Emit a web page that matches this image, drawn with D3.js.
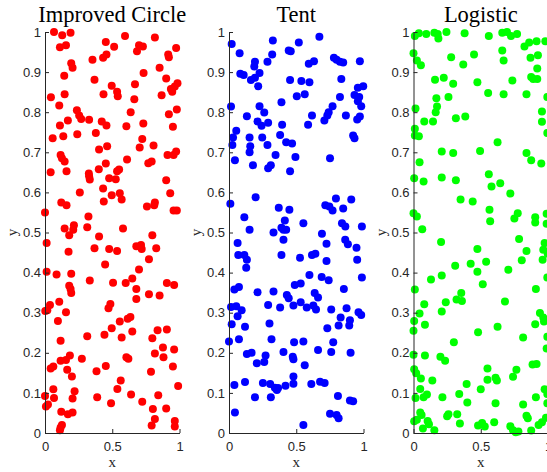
<!DOCTYPE html>
<html>
<head>
<meta charset="utf-8">
<script src="https://cdn.jsdelivr.net/npm/d3@7"></script>
<style>
  body { margin: 0; background: #fff; }
  svg { display: block; }
</style>
</head>
<body>
<svg id="chart"></svg>
<script>
const width = 547;
const height = 472;

const titles = ["Improved Circle", "Tent", "Logistic"];
const colors = ["#ff0000", "#0000ff", "#00ff00"];
const xTicks = [0, 0.5, 1];
const yTicks = [0, 0.1, 0.2, 0.3, 0.4, 0.5, 0.6, 0.7, 0.8, 0.9, 1];

// [x, y]
const circlePts = [
  [.067,1.0],[.128,.992],[.190,.998],[.111,.962],[.156,.967],[.195,.922],[.205,.911],[.143,.891],
  [.044,.837],[.146,.845],[.106,.817],[.111,.767],[.170,.779],[.237,.805],[.254,.792],[.269,.783],
  [.328,.781],[.422,.777],[.457,.767],[.452,.975],[.514,.963],[.353,.931],[.432,.936],[.457,.944],
  [.368,.881],[.435,.845],[.496,.866],[.536,.851],[.541,.840],[.595,.990],[.699,.967],[.728,.964],
  [.684,.952],[.733,.898],[.669,.870],[.664,.832],[.637,.800],[.731,.772],[.605,.765],[.817,.986],
  [.975,.960],[.916,.944],[.921,.937],[.852,.911],[.901,.884],[.867,.842],[.946,.851],[.936,.858],
  [.965,.864],[.985,.872],[.980,.807],[.921,.795],[.951,.764],
  [.057,.735],[.136,.740],[.240,.745],[.378,.748],[.116,.693],[.126,.685],[.146,.677],[.160,.653],
  [.042,.650],[.402,.707],[.462,.715],[.452,.672],[.400,.658],[.326,.647],[.328,.640],[.333,.632],
  [.477,.635],[.526,.633],[.536,.653],[.551,.657],[.610,.682],[.704,.712],[.723,.733],[.807,.717],
  [.768,.673],[.793,.677],[.911,.693],[.956,.693],[.975,.702],[.901,.630],[.931,.598],[.956,.555],
  [.980,.555],[.259,.600],[.432,.610],[.496,.593],[.556,.598],[.570,.582],[.437,.577],[.121,.575],
  [.160,.568],[.0,.550],[.323,.540],[.758,.565],[.817,.575],[.812,.568],[.146,.510],[.215,.518],
  [.210,.507],[.180,.493],[.314,.513],[.402,.490],[.580,.510],[.798,.493],
  [.012,.474],[.175,.452],[.368,.461],[.477,.459],[.536,.454],[.679,.466],[.714,.469],[.719,.459],
  [.827,.461],[.773,.433],[.447,.420],[.012,.402],[.086,.395],[.195,.397],[.333,.380],[.506,.375],
  [.600,.374],[.649,.385],[.699,.408],[.180,.367],[.190,.359],[.195,.349],[.679,.359],[.679,.334],
  [.773,.346],[.852,.343],[.906,.374],[.960,.369],[.037,.319],[.017,.306],[.002,.304],[.106,.327],
  [.156,.301],[.096,.279],[.486,.322],[.472,.311],[.556,.278],[.615,.285],[.635,.289],[.496,.261],
  [.649,.253],[.442,.245],[.314,.241],[.570,.238],[.837,.256],[.906,.258],[.798,.236],[.116,.230],
  [.877,.213],[.817,.198],[.881,.189],[.960,.208],[.951,.166],[.042,.161],[.062,.166],[.116,.180],
  [.156,.182],[.185,.193],[.165,.158],[.200,.141],[.274,.185],[.383,.154],[.452,.167],[.605,.189],
  [.620,.185],[.563,.131],[.538,.110],[.788,.153],[.640,.096],[.723,.078],[.0,.092],[.007,.066],
  [.022,.071],[.062,.109],[.067,.087],[.205,.086],[.220,.104],[.388,.089],[.491,.074],[.121,.053],
  [.170,.047],[.205,.051],[.126,.020],[.116,.014],[.111,.007],[.802,.060],[.817,.035],[.793,.019],
  [.842,.094],[.901,.061],[.965,.030],[.965,.016],[.990,.117]
];

const tentPts = [
  [.020,.970],[.079,.947],[.084,.896],[.109,.893],[.163,.880],[.193,.886],[.188,.914],[.193,.926],
  [.227,.898],[.217,.865],[.015,.814],[.133,.790],[.227,.815],[.262,.799],[.212,.777],[.242,.766],
  [.291,.774],[.054,.754],[.326,.979],[.321,.944],[.286,.926],[.444,.954],[.459,.952],[.519,.974],
  [.454,.880],[.538,.878],[.598,.875],[.504,.840],[.563,.845],[.390,.825],[.395,.769],[.588,.769],
  [.617,.792],[.593,.921],[.632,.927],[.672,.988],[.780,.936],[.800,.931],[.825,.926],[.849,.924],
  [.835,.883],[.825,.838],[.770,.815],[.741,.800],[.731,.792],[.709,.779],[.869,.792],[.973,.927],
  [.958,.861],[.998,.865],[.933,.843],[.968,.838],[.983,.815],[.958,.827],[.973,.789],[.953,.782],
  [.030,.737],[.025,.718],[.153,.737],[.247,.737],[.380,.743],[.158,.715],[.153,.700],[.286,.718],
  [.425,.725],[.469,.722],[.346,.693],[.494,.688],[.044,.680],[.178,.668],[.291,.660],[.311,.668],
  [.454,.653],[.751,.685],[.923,.742],[.933,.735],[.010,.572],[.198,.588],[.114,.538],[.153,.507],
  [.370,.562],[.449,.557],[.415,.530],[.390,.512],[.405,.507],[.425,.507],[.331,.500],[.553,.523],
  [.716,.568],[.746,.565],[.770,.555],[.795,.585],[.849,.560],[.909,.582],[.840,.523],[.865,.515],
  [.988,.515],[.691,.497],
  [.405,.482],[.064,.474],[.069,.444],[.114,.444],[.133,.432],[.128,.412],[.390,.444],[.528,.437],
  [.617,.444],[.642,.447],[.725,.472],[.725,.429],[.864,.482],[.884,.471],[.948,.462],[.953,.432],
  [.598,.394],[.689,.389],[.741,.381],[.988,.388],[.040,.358],[.074,.364],[.212,.351],[.331,.353],
  [.430,.344],[.444,.336],[.489,.369],[.533,.373],[.637,.349],[.662,.338],[.854,.359],[.015,.314],
  [.054,.316],[.094,.306],[.064,.291],[.119,.265],[.020,.271],[.291,.319],[.380,.313],[.479,.318],
  [.533,.326],[.578,.313],[.627,.318],[.647,.308],[.760,.308],[.830,.288],[.815,.268],[.874,.311],
  [.899,.281],[.894,.268],[.963,.301],[.983,.294],[.301,.273],[.731,.261],[.0,.228],[.074,.234],
  [.316,.234],[.484,.226],[.553,.228],[.775,.226],
  [.133,.197],[.168,.200],[.207,.174],[.262,.177],[.272,.193],[.405,.202],[.474,.190],[.479,.184],
  [.563,.169],[.662,.207],[.760,.202],[.904,.200],[.040,.120],[.119,.127],[.252,.125],[.306,.122],
  [.341,.113],[.356,.107],[.365,.112],[.420,.118],[.479,.123],[.479,.141],[.612,.122],[.677,.128],
  [.711,.125],[.193,.089],[.311,.089],[.810,.092],[.899,.081],[.923,.079],[.044,.051],[.751,.048],
  [.800,.045],[.815,.037],[.553,.020]
];

const logisticPts = [
  [.010,.990],[.040,.997],[.095,.995],[.155,.998],[.185,.984],[.180,.995],[.245,1.0],[.380,.997],
  [.560,.990],[.660,.998],[.695,1.0],[.725,.990],[.770,.995],[.0,.947],[.025,.929],[.055,.917],
  [.280,.937],[.370,.919],[.450,.944],[.660,.954],[.670,.929],[.825,.964],[.860,.974],[.915,.977],
  [.980,.977],[.870,.936],[.925,.942],[.920,.909],[.875,.888],[.890,.883],[.920,.883],[.160,.881],
  [.225,.886],[.295,.871],[.475,.875],[.735,.879],[.555,.848],[.670,.845],[.840,.845],[.995,.838],
  [.015,.809],[.170,.835],[.175,.814],[.165,.800],[.260,.838],[.080,.777],[.145,.777],[.315,.785],
  [.385,.789],[.955,.802],[.955,.776],[.010,.759],
  [.010,.742],[.040,.740],[.045,.675],[.210,.702],[.295,.698],[.495,.703],[.625,.725],[.840,.698],
  [.875,.680],[.950,.672],[.995,.748],[.005,.635],[.075,.627],[.210,.637],[.315,.630],[.560,.645],
  [.580,.615],[.645,.623],[.720,.597],[.350,.582],[.440,.577],[.565,.557],[.570,.528],[.0,.548],
  [.025,.540],[.065,.508],[.750,.535],[.775,.548],[.905,.538],[.905,.525],[.990,.547],[.990,.522],
  [.785,.484],[.205,.476],[.475,.459],[.840,.454],[.805,.431],[.975,.474],[.965,.457],[.960,.432],
  [.998,.447],[.310,.417],[.425,.422],[.475,.402],[.540,.427],[.705,.407],[.130,.383],[.210,.393],
  [.515,.371],[.995,.388],[.010,.358],[.910,.359],[.355,.349],[.320,.333],[.360,.329],[.240,.326],
  [.680,.328],[.080,.321],[.045,.298],[.210,.303],[.005,.279],[.0,.255],[.085,.270],[.940,.299],
  [.965,.288],[.970,.278],[.905,.271],[.625,.265],[.480,.251],[.815,.238],[.300,.226],[.995,.240],
  [.990,.211],[.0,.195],[.085,.193],[.200,.190],[.235,.180],[.005,.159],[.020,.149],[.055,.136],
  [.140,.131],[.550,.161],[.550,.133],[.610,.138],[.620,.131],[.765,.158],[.740,.140],[.885,.171],
  [.915,.172],[.975,.109],[.995,.097],[.395,.122],[.500,.109],[.340,.097],[.400,.076],[.610,.074],
  [.215,.089],[.015,.087],[.050,.110],[.075,.089],[.100,.096],[.910,.089],[.995,.074],[.815,.071],
  [.050,.051],[.060,.045],[.005,.029],[.025,.033],[.105,.030],[.115,.022],[.070,.011],[.155,.007],
  [.250,.042],[.260,.047],[.325,.047],[.345,.024],[.480,.019],[.510,.025],[.530,.016],[.600,.027],
  [.720,.017],[.740,.007],[.760,.002],[.780,.004],[.840,.043],[.850,.037],[.875,.006],[.930,.020],
  [.955,.027],[.985,.038]
];

const series = [circlePts, tentPts, logisticPts];
const panelLeft = [45, 229, 413.5];
const panelWidth = 134.5;
const plotTop = 32, plotBottom = 433;

const svg = d3.select("#chart")
    .attr("width", width)
    .attr("height", height)
    .style("font-family", "'Liberation Sans', Arial, sans-serif");

const y = d3.scaleLinear().domain([0, 1]).range([plotBottom, plotTop]);

series.forEach((pts, i) => {
    const x = d3.scaleLinear().domain([0, 1]).range([panelLeft[i], panelLeft[i] + panelWidth]);
    const g = svg.append("g");

    // points
    g.append("g")
        .selectAll("circle")
        .data(pts)
        .join("circle")
            .attr("cx", d => x(d[0]))
            .attr("cy", d => y(d[1]))
            .attr("r", 4)
            .attr("fill", colors[i]);

    // x axis, ticks pointing in
    const xAxis = g.append("g")
        .attr("transform", `translate(0,${plotBottom})`)
        .call(d3.axisBottom(x).tickValues(xTicks).tickSizeInner(-4).tickSizeOuter(0)
            .tickFormat(d3.format("~g")));
    xAxis.select(".domain").attr("stroke", "#262626");
    xAxis.selectAll(".tick line").attr("stroke", "#262626");
    xAxis.selectAll(".tick text")
        .attr("y", 9)
        .attr("fill", "#262626")
        .style("font-size", "13px")
        .style("font-family", "'Liberation Sans', Arial, sans-serif");

    // y axis
    const yAxis = g.append("g")
        .attr("transform", `translate(${x(0)},0)`)
        .call(d3.axisLeft(y).tickValues(yTicks).tickSizeInner(-4).tickSizeOuter(0)
            .tickFormat(d3.format("~g")));
    yAxis.select(".domain").attr("stroke", "#262626");
    yAxis.selectAll(".tick line").attr("stroke", "#262626");
    yAxis.selectAll(".tick text")
        .attr("x", -4)
        .attr("fill", "#262626")
        .style("font-size", "13px")
        .style("font-family", "'Liberation Sans', Arial, sans-serif");

    // titles and labels
    g.append("text")
        .attr("x", x(0.5))
        .attr("y", 22)
        .attr("text-anchor", "middle")
        .style("font-family", "'Liberation Serif', 'Times New Roman', serif")
        .style("font-size", "22.5px")
        .attr("fill", "#000")
        .text(titles[i]);

    g.append("text")
        .attr("x", x(0.5))
        .attr("y", 467)
        .attr("text-anchor", "middle")
        .style("font-family", "'Liberation Serif', 'Times New Roman', serif")
        .style("font-size", "15px")
        .attr("fill", "#262626")
        .text("x");

    g.append("text")
        .attr("transform", `translate(${x(0) - 28},${y(0.5)}) rotate(-90)`)
        .attr("text-anchor", "middle")
        .style("font-family", "'Liberation Serif', 'Times New Roman', serif")
        .style("font-size", "15px")
        .attr("fill", "#262626")
        .text("y");
});
</script>
</body>
</html>
